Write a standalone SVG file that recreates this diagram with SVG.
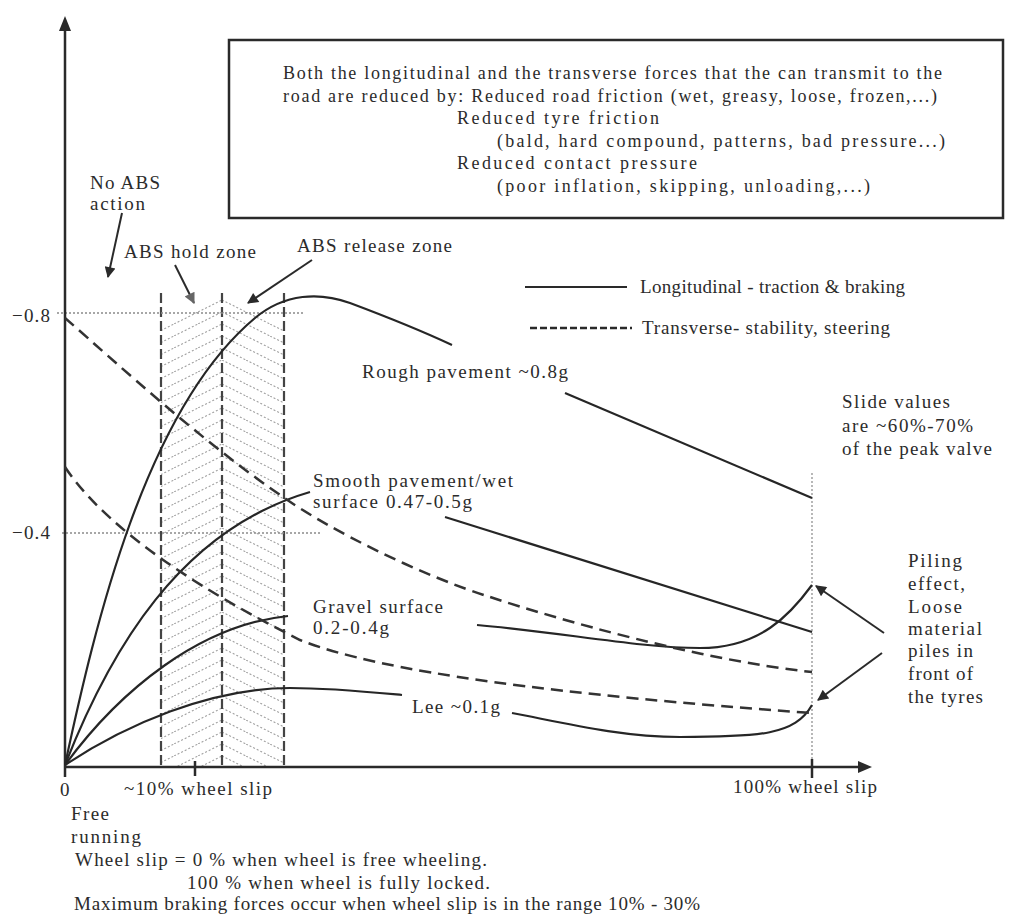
<svg xmlns="http://www.w3.org/2000/svg" width="1015" height="914" viewBox="0 0 1015 914">
  <style>
    .t { font-family: "Liberation Serif", "Times New Roman", serif; font-size: 19px; fill: #2b2b2b; }
    .box .t { font-size: 18px; }
    .curve { fill: none; stroke: #262626; stroke-width: 2.2; }
    .trans { fill: none; stroke: #333; stroke-width: 2.5; stroke-dasharray: 12 7; }
    .grid { stroke: #8a8a8a; stroke-width: 1.6; stroke-dasharray: 2 2; }
    .zone { stroke: #444; stroke-width: 2.2; stroke-dasharray: 10 4; }
    .axis { stroke: #2a2a2a; stroke-width: 2.5; fill: none; }
    .ptr { stroke: #2a2a2a; stroke-width: 2; fill: none; }
  </style>
  <defs>
    <marker id="head" viewBox="0 0 10 10" refX="9" refY="5" markerWidth="14" markerHeight="11" markerUnits="userSpaceOnUse" orient="auto">
      <path d="M0,0 L10,5 L0,10 z" fill="#2a2a2a"/>
    </marker>
    <marker id="headGrey" viewBox="0 0 10 10" refX="9" refY="5" markerWidth="14" markerHeight="11" markerUnits="userSpaceOnUse" orient="auto">
      <path d="M0,0 L10,5 L0,10 z" fill="#666"/>
    </marker>
    <!-- rising hatch for the hold zone, falling hatch for the release zone -->
    <pattern id="hatchUp" patternUnits="userSpaceOnUse" x="222" y="0" width="24" height="12">
      <line x1="0" y1="12" x2="24" y2="0" stroke="#a0a0a0" stroke-width="1.1" stroke-dasharray="2 2"/>
    </pattern>
    <pattern id="hatchDown" patternUnits="userSpaceOnUse" x="222" y="0" width="24" height="12">
      <line x1="0" y1="0" x2="24" y2="12" stroke="#a0a0a0" stroke-width="1.1" stroke-dasharray="2 2"/>
    </pattern>
  </defs>

  <rect width="1015" height="914" fill="#ffffff"/>

  <!-- note box -->
  <g id="note" class="box">
    <rect x="229" y="40" width="774" height="178" fill="none" stroke="#2a2a2a" stroke-width="2.5"/>
    <text class="t" x="283" y="79" textLength="659" lengthAdjust="spacing">Both the longitudinal and the transverse forces that the can transmit to the</text>
    <text class="t" x="283" y="102" textLength="654" lengthAdjust="spacing">road are reduced by: Reduced road friction (wet, greasy, loose, frozen,...)</text>
    <text class="t" x="457" y="124" textLength="202" lengthAdjust="spacing">Reduced tyre friction</text>
    <text class="t" x="497" y="147" textLength="448" lengthAdjust="spacing">(bald, hard compound, patterns, bad pressure...)</text>
    <text class="t" x="457" y="169" textLength="240" lengthAdjust="spacing">Reduced contact pressure</text>
    <text class="t" x="497" y="192" textLength="373" lengthAdjust="spacing">(poor inflation, skipping, unloading,...)</text>
  </g>

  <!-- ABS zones -->
  <g id="abs-zones">
    <polygon points="161,322 222,292 222,767 161,767" fill="url(#hatchUp)"/>
    <polygon points="222,292 284,323 284,767 222,767" fill="url(#hatchDown)"/>
    <line class="zone" x1="161" y1="293" x2="161" y2="767"/>
    <line class="zone" x1="222" y1="293" x2="222" y2="767"/>
    <line class="zone" x1="284" y1="293" x2="284" y2="767" stroke-width="2.6"/>
  </g>

  <!-- grid lines and 100% slip marker -->
  <g id="grid">
    <line class="grid" x1="57" y1="313" x2="305" y2="313"/>
    <line class="grid" x1="62" y1="533" x2="320" y2="533"/>
    <line x1="812" y1="473" x2="812" y2="767" stroke="#9a9a9a" stroke-width="1.4" stroke-dasharray="2 2"/>
  </g>

  <!-- axes -->
  <g id="axes">
    <line class="axis" x1="65" y1="777" x2="65" y2="28"/>
    <polygon points="59,31 71,31 65,16" fill="#2a2a2a"/>
    <line class="axis" x1="65" y1="767" x2="860" y2="767"/>
    <polygon points="858,761 858,773 872,767" fill="#2a2a2a"/>
    <line class="axis" x1="195" y1="761" x2="195" y2="776"/>
    <line class="axis" x1="812" y1="759" x2="812" y2="778"/>
    <text class="t" x="12" y="322" textLength="38" lengthAdjust="spacing">−0.8</text>
    <text class="t" x="12" y="539" textLength="38" lengthAdjust="spacing">−0.4</text>
    <text class="t" x="60" y="796">0</text>
    <text class="t" x="124" y="795" textLength="148" lengthAdjust="spacing">~10% wheel slip</text>
    <text class="t" x="733" y="793" textLength="144" lengthAdjust="spacing">100% wheel slip</text>
  </g>

  <!-- friction curves -->
  <g id="connectors">
    <!-- longitudinal: rough pavement -->
    <path class="curve" d="M65,765 C95,625 145,410 255,318 C285,293 320,292 350,303 C390,318 420,330 452,345"/>
    <path class="curve" d="M565,393 L812,498"/>
    <!-- longitudinal: smooth / wet pavement -->
    <path class="curve" d="M65,765 C110,650 180,530 310,492"/>
    <path class="curve" d="M445,517 L812,632"/>
    <!-- longitudinal: gravel -->
    <path class="curve" d="M65,765 C120,690 200,625 288,616"/>
    <path class="curve" d="M477,625 C560,632 640,648 700,648 C760,648 790,615 812,585"/>
    <!-- longitudinal: ice -->
    <path class="curve" d="M65,765 C125,725 210,688 290,688 C330,688 370,692 402,695"/>
    <path class="curve" d="M512,713 C560,722 620,737 680,737 C760,737 795,735 812,705"/>
    <!-- transverse -->
    <path class="trans" d="M65,318 C120,366 200,440 283,497 C330,530 420,575 490,597 C560,620 700,660 812,672"/>
    <path class="trans" d="M65,467 C100,520 180,580 300,640 C380,672 560,695 812,713"/>

    <!-- pointer arrows -->
    <line class="ptr" x1="122" y1="213" x2="108" y2="277" marker-end="url(#head)"/>
    <line class="ptr" x1="175" y1="265" x2="194" y2="303" stroke="#666" marker-end="url(#headGrey)"/>
    <line class="ptr" x1="312" y1="260" x2="248" y2="303" marker-end="url(#head)"/>
    <line class="ptr" x1="884" y1="633" x2="816" y2="586" marker-end="url(#head)"/>
    <line class="ptr" x1="882" y1="653" x2="818" y2="700" marker-end="url(#head)"/>
  </g>

  <!-- legend -->
  <g id="legend">
    <line x1="525" y1="287" x2="627" y2="287" stroke="#2a2a2a" stroke-width="2.2"/>
    <text class="t" x="640" y="293" textLength="265" lengthAdjust="spacing">Longitudinal - traction &amp; braking</text>
    <line x1="530" y1="328" x2="632" y2="328" stroke="#2a2a2a" stroke-width="2.5" stroke-dasharray="7 3"/>
    <text class="t" x="642" y="334" textLength="248" lengthAdjust="spacing">Transverse- stability, steering</text>
  </g>

  <!-- annotations -->
  <g id="label-no-abs">
    <text class="t" x="90" y="189" textLength="70" lengthAdjust="spacing">No ABS</text>
    <text class="t" x="90" y="210" textLength="55" lengthAdjust="spacing">action</text>
  </g>
  <g id="label-hold">
    <text class="t" x="124" y="258" textLength="132" lengthAdjust="spacing">ABS hold zone</text>
  </g>
  <g id="label-release">
    <text class="t" x="297" y="252" textLength="155" lengthAdjust="spacing">ABS release zone</text>
  </g>
  <g id="label-rough">
    <text class="t" x="362" y="378" textLength="206" lengthAdjust="spacing">Rough pavement ~0.8g</text>
  </g>
  <g id="label-smooth">
    <text class="t" x="313" y="487" textLength="200" lengthAdjust="spacing">Smooth pavement/wet</text>
    <text class="t" x="313" y="508" textLength="159" lengthAdjust="spacing">surface 0.47-0.5g</text>
  </g>
  <g id="label-gravel">
    <text class="t" x="313" y="613" textLength="130" lengthAdjust="spacing">Gravel surface</text>
    <text class="t" x="313" y="634" textLength="76" lengthAdjust="spacing">0.2-0.4g</text>
  </g>
  <g id="label-ice">
    <text class="t" x="412" y="713" textLength="88" lengthAdjust="spacing">Lee ~0.1g</text>
  </g>
  <g id="label-slide">
    <text class="t" x="842" y="408" textLength="108" lengthAdjust="spacing">Slide values</text>
    <text class="t" x="842" y="432" textLength="131" lengthAdjust="spacing">are ~60%-70%</text>
    <text class="t" x="842" y="455" textLength="150" lengthAdjust="spacing">of the peak valve</text>
  </g>
  <g id="label-piling">
    <text class="t" x="908" y="567" textLength="54" lengthAdjust="spacing">Piling</text>
    <text class="t" x="908" y="590" textLength="57" lengthAdjust="spacing">effect,</text>
    <text class="t" x="908" y="613" textLength="54" lengthAdjust="spacing">Loose</text>
    <text class="t" x="908" y="635" textLength="74" lengthAdjust="spacing">material</text>
    <text class="t" x="908" y="657" textLength="65" lengthAdjust="spacing">piles in</text>
    <text class="t" x="908" y="680" textLength="65" lengthAdjust="spacing">front of</text>
    <text class="t" x="908" y="703" textLength="75" lengthAdjust="spacing">the tyres</text>
  </g>
  <g id="footnote">
    <text class="t" x="71" y="820" textLength="38" lengthAdjust="spacing">Free</text>
    <text class="t" x="71" y="843" textLength="70" lengthAdjust="spacing">running</text>
    <text class="t" x="75" y="866" textLength="412" lengthAdjust="spacing">Wheel slip = 0 % when wheel is free wheeling.</text>
    <text class="t" x="187" y="889" textLength="303" lengthAdjust="spacing">100 % when wheel is fully locked.</text>
    <text class="t" x="74" y="910" textLength="626" lengthAdjust="spacing">Maximum braking forces occur when wheel slip is in the range 10% - 30%</text>
  </g>
</svg>
